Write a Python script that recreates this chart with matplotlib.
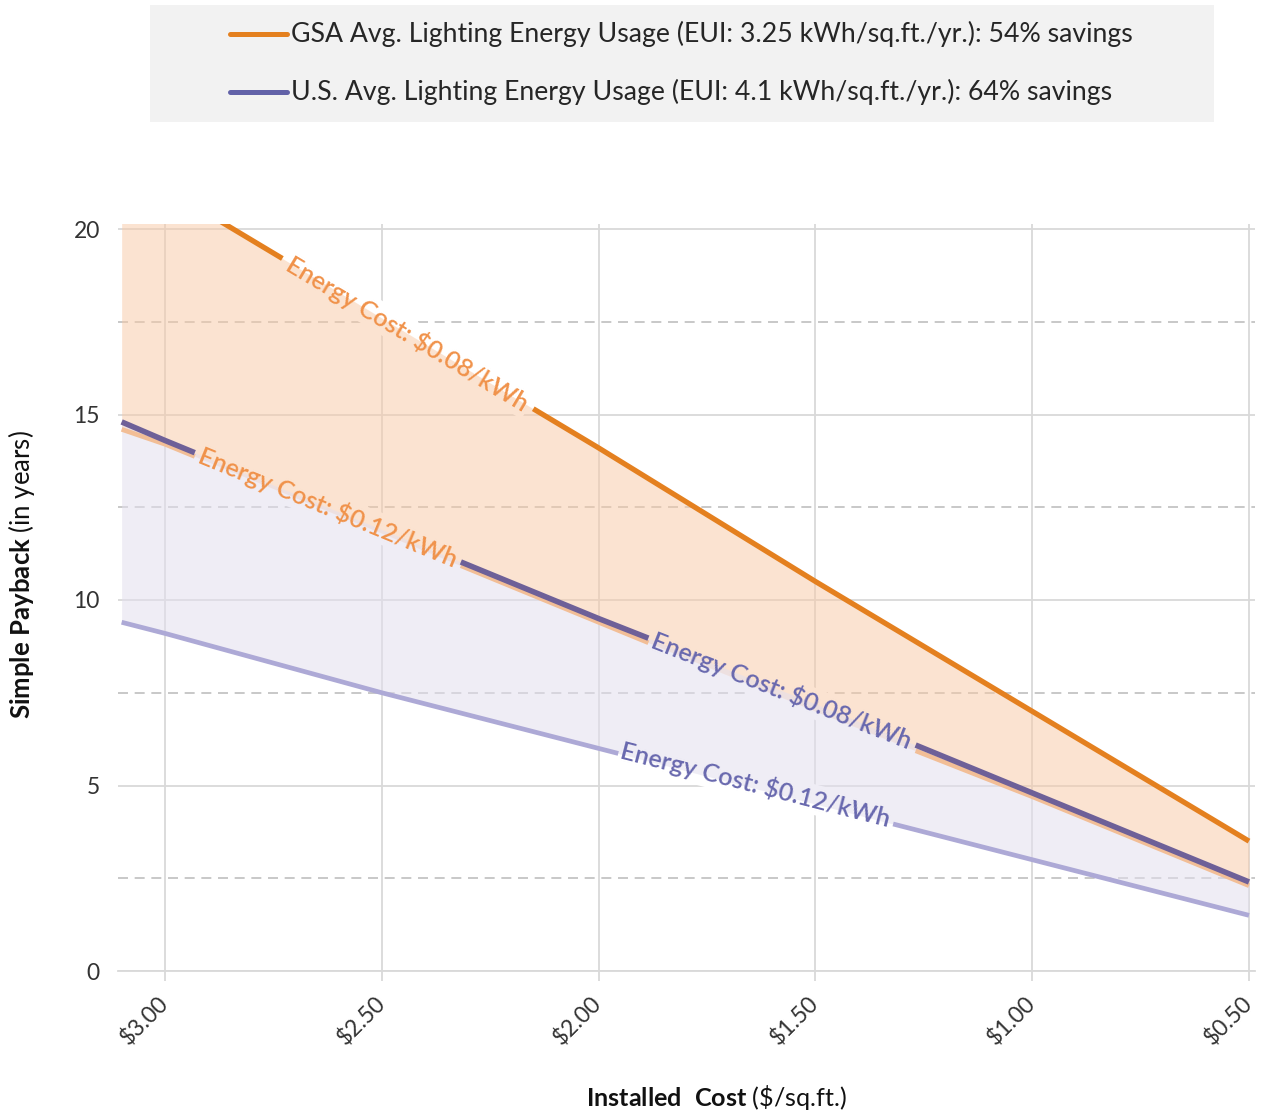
import numpy as np
import matplotlib
matplotlib.use("Agg")
import matplotlib.pyplot as plt
from matplotlib.lines import Line2D
from matplotlib.patches import Rectangle

plt.rcParams['font.family'] = ['Lato', 'DejaVu Sans']
plt.rcParams['mathtext.fontset'] = 'custom'
plt.rcParams['mathtext.rm'] = 'Lato'
plt.rcParams['mathtext.bf'] = 'Lato:bold'
plt.rcParams['mathtext.it'] = 'Lato:italic'

# ---------------- data ----------------
installed_cost = [3.10, 3.00, 2.50, 2.00, 1.50, 1.00, 0.50]
gsa_payback_008 = [21.8, 21.1, 17.6, 14.1, 10.5, 7.0, 3.5]
gsa_payback_012 = [14.6, 14.2, 11.8, 9.4, 7.0, 4.7, 2.3]
us_payback_008 = [14.8, 14.3, 11.9, 9.5, 7.2, 4.8, 2.4]
us_payback_012 = [9.4, 9.1, 7.5, 6.0, 4.5, 3.0, 1.5]

x_ticks = [3.00, 2.50, 2.00, 1.50, 1.00, 0.50]
x_tick_labels = ['$3.00', '$2.50', '$2.00', '$1.50', '$1.00', '$0.50']
y_ticks = [0, 5, 10, 15, 20]
y_minor_ticks = [2.5, 7.5, 12.5, 17.5]

legend_labels = ['GSA Avg. Lighting Energy Usage (EUI: 3.25 kWh/sq.ft./yr.): 54% savings',
                 'U.S. Avg. Lighting Energy Usage (EUI: 4.1 kWh/sq.ft./yr.): 64% savings']
label_008 = 'Energy Cost: $0.08/kWh'
label_012 = 'Energy Cost: $0.12/kWh'
x_label = r'$\mathbf{Installed\ \ Cost}$ (\$/sq.ft.)'
y_label = r'$\mathbf{Simple\ Payback}$ (in years)'

# ---------------- styles ----------------
C_GSA = '#E4801F'
C_GSA_LIGHT = '#F2BE96'
C_US = '#6E6098'
C_US_LEG = '#6262A8'
C_US_LIGHT = '#ADA9D6'
C_GSA_TXT = '#F0924A'
C_US_TXT = '#6868AE'
FILL_GSA = '#F9C9A5'
FILL_US = '#E3DFEE'
GRID = '#D9D9D9'
GRID_DASH = '#BFBFBF'
TXT = '#333333'

W, H = 1264, 1114
fig = plt.figure(figsize=(W / 100, H / 100), dpi=100)
renderer = fig.canvas.get_renderer()

ax = fig.add_axes([118 / W, (H - 971) / H, (1255 - 118) / W, (971 - 224) / H])
px_per_dollar = (1249 - 165) / 2.5
ax.set_xlim(3.0 + (165 - 118) / px_per_dollar, 0.5 - (1255 - 1249) / px_per_dollar)
ax.set_ylim(0, 20 * (971 - 224) / (971 - 229))

for s in ['left', 'right', 'top']:
    ax.spines[s].set_visible(False)
ax.spines['bottom'].set_color(GRID)
ax.spines['bottom'].set_linewidth(1.3)

ax.set_xticks(x_ticks)
ax.set_xticklabels(x_tick_labels)
ax.set_yticks(y_ticks)
ax.set_yticks(y_minor_ticks, minor=True)
ax.set_axisbelow(True)
ax.grid(which='major', color=GRID, lw=1.3)
ax.grid(which='minor', axis='y', color=GRID_DASH, lw=1.2, ls=(0, (6, 4)))
ax.tick_params(axis='x', which='major', length=7, width=1.3, color=GRID, pad=14,
               labelsize=16.5, labelcolor=TXT)
ax.tick_params(axis='y', which='both', length=0, pad=13, labelsize=16.5, labelcolor=TXT)
for lab in ax.get_xticklabels():
    lab.set_rotation(45)
    lab.set_ha('right')
    lab.set_va('center')
    lab.set_rotation_mode('anchor')

# ---------------- fills ----------------
ax.fill_between(installed_cost, gsa_payback_008, gsa_payback_012, color=FILL_GSA,
                alpha=0.5, lw=0, zorder=1)
ax.fill_between(installed_cost, us_payback_008, us_payback_012, color=FILL_US,
                alpha=0.55, lw=0, zorder=1.05)


def text_width(s, size, **kw):
    t = fig.text(0, 0, s, fontsize=size, **kw)
    w = t.get_window_extent(renderer=renderer).width
    t.remove()
    return w


def fit_size(s, target_px, base=16, **kw):
    return base * target_px / text_width(s, base, **kw)


LBL_KW = dict(fontweight='semibold')
lbl_size = fit_size(label_008, 278, **LBL_KW)


def series_xy(yvals):
    xs = np.array(installed_cost)[::-1]
    ys = np.array(yvals)[::-1]
    return xs, ys


def place_label(yvals, cx, text, color, off_px=0.0):
    xs, ys = series_xy(yvals)
    cy = np.interp(cx, xs, ys)
    p1 = ax.transData.transform((cx + 0.1, np.interp(cx + 0.1, xs, ys)))
    p2 = ax.transData.transform((cx - 0.1, np.interp(cx - 0.1, xs, ys)))
    ang = np.degrees(np.arctan2(p2[1] - p1[1], p2[0] - p1[0]))
    th = np.radians(ang)
    ox, oy = off_px * np.sin(th), -off_px * np.cos(th)
    kw = dict(xy=(cx, cy), xytext=(ox * 0.72, oy * 0.72), textcoords='offset points',
              rotation=ang, rotation_mode='anchor', ha='center', va='center',
              fontsize=lbl_size, **LBL_KW)
    t = ax.annotate(text, color=color, zorder=5, **kw)
    ax.annotate(text, color=(0, 0, 0, 0), zorder=0.8,
                bbox=dict(boxstyle='square,pad=0.1', fc='white', ec='none'), **kw)
    bb = t.get_window_extent(renderer=renderer)
    inv = ax.transData.inverted()
    xa = inv.transform((bb.x0, bb.y0))[0]
    xb = inv.transform((bb.x1, bb.y0))[0]
    return (min(xa, xb), max(xa, xb))


gap_gsa008 = place_label(gsa_payback_008, 2.440, label_008, C_GSA_TXT, 0)
gap_gsa012 = place_label(gsa_payback_012, 2.628, label_012, C_GSA_TXT, -4)
gap_us008 = place_label(us_payback_008, 1.577, label_008, C_US_TXT, 0)
gap_us012 = place_label(us_payback_012, 1.640, label_012, C_US_TXT, -4)


def plot_with_gaps(yvals, gaps, **kw):
    xs, ys = series_xy(yvals)
    edges = sorted(set(list(xs) + [g for gap in gaps for g in gap]))
    px, py = [], []
    for a, b in zip(edges[:-1], edges[1:]):
        mid = 0.5 * (a + b)
        if any(g0 < mid < g1 for g0, g1 in gaps):
            px.append(np.nan)
            py.append(np.nan)
            continue
        px += [a, b]
        py += [np.interp(a, xs, ys), np.interp(b, xs, ys)]
    ax.plot(px, py, solid_capstyle='butt', **kw)


plot_with_gaps(gsa_payback_012, [gap_gsa012, gap_us008], color=C_GSA_LIGHT, lw=3.4, zorder=2)
plot_with_gaps(us_payback_008, [gap_gsa012, gap_us008], color=C_US, lw=4.0, zorder=2.1)
plot_with_gaps(us_payback_012, [gap_us012], color=C_US_LIGHT, lw=3.4, zorder=2)
plot_with_gaps(gsa_payback_008, [gap_gsa008], color=C_GSA, lw=3.8, zorder=2.2)

# ---------------- legend (top box) ----------------
fig.add_artist(Rectangle((150 / W, 1 - 122 / H), (1214 - 150) / W, 117 / H,
                         transform=fig.transFigure, fc='#F2F2F2', ec='none', zorder=0))
leg_size = fit_size(legend_labels[0], 843)
for yy, col, lab in [(34, C_GSA, legend_labels[0]), (92, C_US_LEG, legend_labels[1])]:
    fig.add_artist(Line2D([230 / W, 287 / W], [1 - yy / H] * 2, transform=fig.transFigure,
                          color=col, lw=3.6, solid_capstyle='round'))
    fig.text(291 / W, 1 - yy / H, lab, ha='left', va='center', fontsize=leg_size, color='#262626')

# ---------------- axis titles ----------------
fig.text(716 / W, 1 - 1097 / H, x_label, ha='center', va='center',
         fontsize=fit_size(x_label, 262), color='#111111')
fig.text(22 / W, 1 - 575 / H, y_label, ha='center', va='center', rotation=90,
         fontsize=fit_size(y_label, 290), color='#111111')

fig.savefig('out.png', dpi=100)
